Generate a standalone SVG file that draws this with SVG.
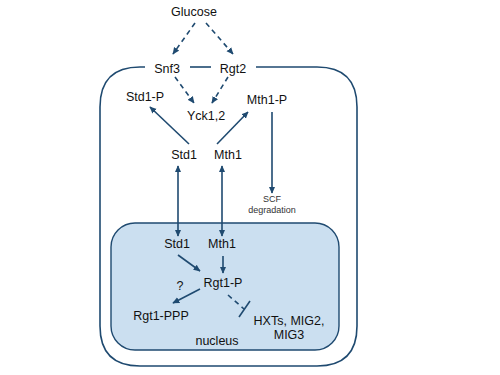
<svg xmlns="http://www.w3.org/2000/svg" width="500" height="375" viewBox="0 0 500 375">
<defs>
<style>
text{font-family:"Liberation Sans",Arial,sans-serif;font-size:12.5px;fill:#111;text-anchor:middle}
.small{font-size:9px;fill:#333}
.ln{fill:none;stroke:#1f4a70;stroke-width:1.6}
.d{stroke-dasharray:5,4}
</style>
<marker id="ah" viewBox="0 0 10 10" refX="9" refY="5" markerWidth="7" markerHeight="7" orient="auto-start-reverse" markerUnits="userSpaceOnUse">
<path d="M0,0.5 L10,5 L0,9.5 Z" fill="#1f4a70"/>
</marker>
</defs>
<rect width="500" height="375" fill="#fff"/>
<g id="cell">
<path class="ln" d="M145,67 L140,67 Q100,67 100,107 L100,326 Q100,366 140,366 L317,366 Q357,366 357,326 L357,107 Q357,67 317,67 L256,67"/>
<line class="ln" x1="190" y1="67" x2="211" y2="67"/>
</g>
<g id="nucleus">
<rect x="111" y="223" width="228" height="127" rx="24" ry="24" fill="#cbdff0" stroke="#1f4a70" stroke-width="1.4"/>
<text x="217" y="345">nucleus</text>
</g>
<g id="glucose"><text x="194" y="16">Glucose</text></g>
<g id="snf3"><text x="167" y="73">Snf3</text></g>
<g id="rgt2"><text x="233" y="73">Rgt2</text></g>
<g id="std1p"><text x="145" y="101">Std1-P</text></g>
<g id="yck"><text x="206" y="120">Yck1,2</text></g>
<g id="mth1p"><text x="267" y="104">Mth1-P</text></g>
<g id="std1"><text x="184" y="159">Std1</text></g>
<g id="mth1"><text x="228" y="159">Mth1</text></g>
<g id="scf"><text class="small" x="272" y="202">SCF</text><text class="small" x="272" y="213">degradation</text></g>
<g id="std1n"><text x="177" y="248">Std1</text></g>
<g id="mth1n"><text x="222" y="248">Mth1</text></g>
<g id="rgt1p"><text x="223" y="287">Rgt1-P</text></g>
<g id="q"><text x="180" y="290">?</text></g>
<g id="rgt1ppp"><text x="161" y="320">Rgt1-PPP</text></g>
<g id="hxts"><text x="289" y="325">HXTs, MIG2,</text><text x="289" y="339">MIG3</text></g>
<g id="connectors">
<line class="ln d" x1="195" y1="23" x2="173" y2="54" marker-end="url(#ah)"/>
<line class="ln d" x1="206" y1="23" x2="233" y2="54" marker-end="url(#ah)"/>
<line class="ln d" x1="175" y1="77" x2="194" y2="103" marker-end="url(#ah)"/>
<line class="ln d" x1="228" y1="77" x2="212" y2="103" marker-end="url(#ah)"/>
<line class="ln" x1="189" y1="144" x2="150" y2="107" marker-end="url(#ah)"/>
<line class="ln" x1="217" y1="144" x2="248" y2="112" marker-end="url(#ah)"/>
<line class="ln" x1="272" y1="112" x2="272" y2="193" marker-end="url(#ah)"/>
<line class="ln" x1="178" y1="166" x2="178" y2="236" marker-start="url(#ah)" marker-end="url(#ah)"/>
<line class="ln" x1="222" y1="166" x2="222" y2="236" marker-start="url(#ah)" marker-end="url(#ah)"/>
<line class="ln" x1="178" y1="255" x2="200" y2="271" marker-end="url(#ah)"/>
<line class="ln" x1="223" y1="256" x2="223" y2="273" marker-end="url(#ah)"/>
<line class="ln" x1="200" y1="289" x2="173" y2="303" marker-end="url(#ah)"/>
<line class="ln d" x1="228" y1="295" x2="244" y2="309"/>
<line class="ln" x1="239" y1="317" x2="250" y2="301"/>
</g>
</svg>
